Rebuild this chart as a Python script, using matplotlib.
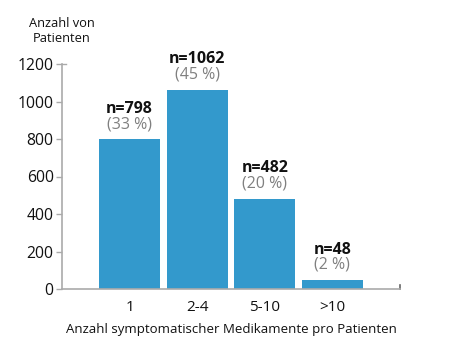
import matplotlib
matplotlib.use("Agg")
import matplotlib.pyplot as plt

categories = ["1", "2-4", "5-10", ">10"]
counts = [798, 1062, 482, 48]
percents = ["(33 %)", "(45 %)", "(20 %)", "(2 %)"]
yticks = [0, 200, 400, 600, 800, 1000, 1200]

plt.rcParams['font.family'] = ['Open Sans', 'DejaVu Sans']

fig = plt.figure(figsize=(4.5, 3.55), dpi=100)
ax = fig.add_axes([62/450, 1-289/355, 338/450, 225/355])

x = list(range(len(categories)))
ax.bar(x, counts, width=0.9, color="#3399cc", zorder=2)
ax.set_xlim(-1, 4)
ax.set_ylim(0, 1200)

for xi, c, p in zip(x, counts, percents):
    ax.annotate(f"n={c}", (xi, c), xytext=(0, 19), textcoords="offset points",
                ha="center", va="baseline", fontsize=11.5, fontweight="bold", color="#111111")
    ax.annotate(p, (xi, c), xytext=(0, 8), textcoords="offset points",
                ha="center", va="baseline", fontsize=11.5, color="#808080")

ax.set_xticks(x)
ax.set_xticklabels(categories, fontsize=11)
ax.set_yticks(yticks)
ax.set_yticklabels([str(v) for v in yticks], fontsize=11.3)

for s in ["top", "right"]:
    ax.spines[s].set_visible(False)
for s in ["left", "bottom"]:
    ax.spines[s].set_color("#aaaaaa")
    ax.spines[s].set_linewidth(1.2)
ax.tick_params(axis="x", length=0, pad=8, colors="#111111")
ax.tick_params(axis="y", length=4, width=1, color="#aaaaaa", labelcolor="#111111", pad=2)
# decorative ticks at ends
ax.plot([0, 0.012], [1, 1], transform=ax.transAxes, color="#aaaaaa", lw=1, clip_on=False)
ax.plot([1, 1], [0, 0.02], transform=ax.transAxes, color="#666666", lw=1.2, clip_on=False)

fig.text(62/450, 1-31/355, "Anzahl von\nPatienten", ha="center", va="center",
         fontsize=9.3, color="#111111", linespacing=1.15)
fig.text(231/450, 1-330/355, "Anzahl symptomatischer Medikamente pro Patienten",
         ha="center", va="center", fontsize=9.5, color="#111111")

fig.savefig("out.png", dpi=100)
